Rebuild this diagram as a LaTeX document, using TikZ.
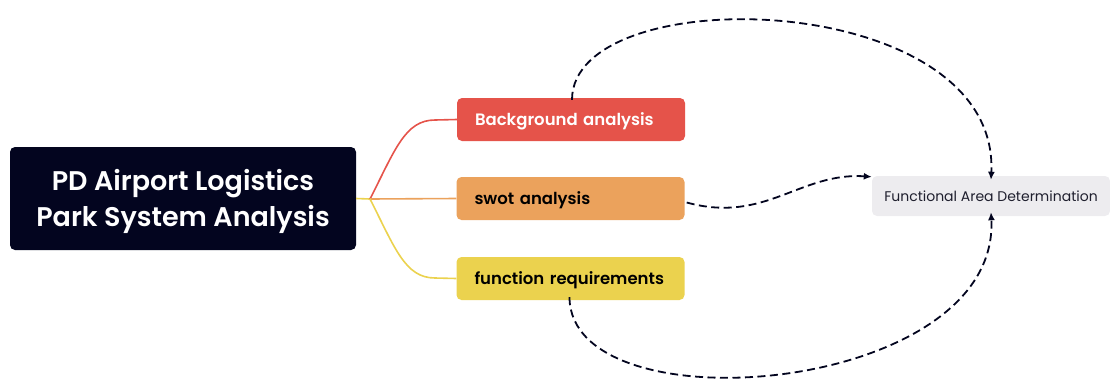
\documentclass[tikz,border=0pt]{standalone}
\usepackage{fontspec}
\setmainfont{Poppins}
\newfontfamily\semifont{Poppins}[UprightFont={* SemiBold}]
\usetikzlibrary{arrows.meta}
\definecolor{navy}{HTML}{03051F}
\definecolor{redbox}{HTML}{E5534A}
\definecolor{orangebox}{HTML}{EBA25C}
\definecolor{yellowbox}{HTML}{EBD24E}
\definecolor{greybox}{HTML}{EDECEF}
\definecolor{greytext}{HTML}{1F1F2E}
\tikzset{
  rootbox/.style={fill=navy, rounded corners=5pt, minimum width=346pt, minimum height=103pt},
  roottext/.style={text=white, align=center, font=\semifont\fontsize{27}{36}\selectfont},
  branchbox/.style={rounded corners=5pt, minimum width=228pt, minimum height=43pt,
    font=\semifont\fontsize{16.5}{18}\selectfont, text width=192pt, align=left, inner xsep=18pt,
    text height=13pt, text depth=2pt},
  leafbox/.style={fill=greybox, rounded corners=5pt, minimum width=238pt, minimum height=40pt,
    text=greytext, font=\fontsize{14}{16}\selectfont},
  branch/.style={line width=1.6pt},
  link/.style={draw=navy, line width=1.8pt, dash pattern=on 8pt off 4.5pt,
    -{Latex[length=8pt,width=7pt]}}
}
\begin{document}
\begin{tikzpicture}[x=1pt,y=-1pt]
\useasboundingbox (0,0) rectangle (1110,378);
\node[rootbox] (root) at (183,198.5) {};
\node[roottext] (roottitle) at (183,201.5) {PD Airport Logistics\\Park System Analysis};
\node[branchbox, fill=redbox, text=white] (bg) at (571,119.5) {Background analysis};
\node[branchbox, fill=orangebox, text=black] (swot) at (570.5,198.5) {swot analysis};
\node[branchbox, fill=yellowbox, text=black] (func) at (570.5,278.5) {function requirements};
\node[leafbox] (fad) at (991,196) {Functional Area Determination};
\coordinate (fork) at (370,199);
% branches from the root
\draw[branch, draw=yellowbox] (root.east) -- (fork);
\draw[branch, draw=redbox] (fork) .. controls (395,150) and (405,120) .. (435,120) -- (bg.west);
\draw[branch, draw=orangebox] (fork) -- (swot.west);
\draw[branch, draw=yellowbox] (fork) .. controls (395,248) and (405,278) .. (435,278) -- (func.west);
% dashed links to the functional area
\draw[link] ([xshift=1pt,yshift=-2pt]bg.north) .. controls (572,-22) and (1000,-12) .. ([yshift=-4pt]fad.north);
\draw[link] ([xshift=2pt,yshift=-4pt]swot.east) .. controls (765,224) and (800,172) .. ([yshift=-1pt]fad.north west);
\draw[link] ([xshift=-1pt,yshift=3pt]func.south) .. controls (570,430) and (1000,395) .. ([yshift=4pt]fad.south);
\end{tikzpicture}
\end{document}
